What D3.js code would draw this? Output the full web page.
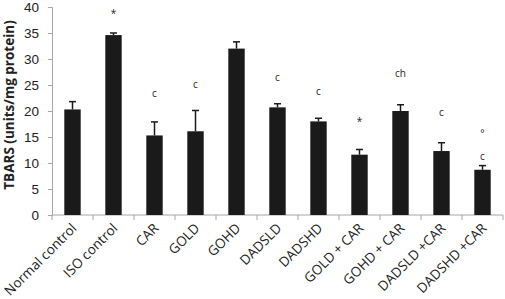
<!DOCTYPE html>
<html>
<head>
<meta charset="utf-8">
<script src="https://cdn.jsdelivr.net/npm/d3@7"></script>
<style>
  body { margin: 0; background: #fff; }
  svg { font-family: "Open Sans", "Noto Sans", sans-serif; }
</style>
</head>
<body>
<div id="chart"></div>
<script>
var groups = ["Normal control", "ISO control", "CAR", "GOLD", "GOHD", "DADSLD", "DADSHD",
    "GOLD + CAR", "GOHD + CAR", "DADSLD +CAR", "DADSHD +CAR"];
var means = [20.3, 34.6, 15.3, 16.1, 32.0, 20.7, 18.0, 11.6, 20.0, 12.3, 8.7];
var errors = [1.5, 0.4, 2.6, 4.0, 1.3, 0.7, 0.6, 1.0, 1.2, 1.6, 0.8];
var yTicks = [0, 5, 10, 15, 20, 25, 30, 35, 40];

// significance marks: group, label, height in axis units
var marks = [
    { group: "ISO control", label: "*", at: 38.6 },
    { group: "CAR", label: "c", at: 23.3 },
    { group: "GOLD", label: "c", at: 25.0 },
    { group: "DADSLD", label: "c", at: 26.2 },
    { group: "DADSHD", label: "c", at: 23.6 },
    { group: "GOLD + CAR", label: "*", at: 17.8 },
    { group: "GOHD + CAR", label: "ch", at: 27.0 },
    { group: "DADSLD +CAR", label: "c", at: 19.6 },
    { group: "DADSHD +CAR", label: "°", at: 15.6 },
    { group: "DADSHD +CAR", label: "c", at: 11.0 }
];

var data = groups.map(function (g, i) {
    return { group: g, mean: means[i], err: errors[i] };
});

var margin = { top: 7, right: 2, bottom: 84, left: 52 },
    width = 505 - margin.left - margin.right,
    height = 299 - margin.top - margin.bottom;

var svg = d3.select("#chart")
    .append("svg")
    .attr("width", 505)
    .attr("height", 299)
    .append("g")
    .attr("transform", "translate(" + margin.left + "," + margin.top + ")");

var x = d3.scaleBand().domain(groups).range([0, width]).paddingInner(0.6).paddingOuter(0.3);
var y = d3.scaleLinear().domain([0, 40]).range([height, 0]);

var axisColor = "#a6a6a6";

// y axis
var yAxis = svg.append("g")
    .call(d3.axisLeft(y).tickValues(yTicks).tickSize(4).tickPadding(9));
yAxis.select(".domain").attr("stroke", axisColor);
yAxis.selectAll(".tick line").attr("stroke", axisColor);
yAxis.selectAll("text").style("font-size", "13.5px").attr("fill", "#222");

// x axis with ticks at band boundaries
var xAxis = svg.append("g").attr("transform", "translate(0," + height + ")");
xAxis.append("line")
    .attr("x1", 0).attr("x2", width)
    .attr("stroke", axisColor);
xAxis.selectAll(".xtick")
    .data(d3.range(groups.length + 1))
    .enter()
    .append("line")
    .attr("class", "xtick")
    .attr("x1", function (i) { return i * width / groups.length; })
    .attr("x2", function (i) { return i * width / groups.length; })
    .attr("y1", 0).attr("y2", 5)
    .attr("stroke", axisColor);

xAxis.selectAll(".xlabel")
    .data(groups)
    .enter()
    .append("text")
    .attr("class", "xlabel")
    .attr("text-anchor", "end")
    .attr("transform", function (d) {
        return "translate(" + (x(d) + x.bandwidth() / 2 + 5) + ",14) rotate(-45)";
    })
    .style("font-size", "13.5px")
    .attr("fill", "#222")
    .text(function (d) { return d; });

// bars
svg.selectAll(".bar")
    .data(data)
    .enter()
    .append("rect")
    .attr("class", "bar")
    .attr("x", function (d) { return x(d.group); })
    .attr("width", x.bandwidth())
    .attr("y", function (d) { return y(d.mean); })
    .attr("height", function (d) { return height - y(d.mean); })
    .attr("fill", "#1a1a1a");

// error bars (upper only)
var eb = svg.selectAll(".err")
    .data(data)
    .enter()
    .append("g")
    .attr("class", "err")
    .attr("stroke", "#1a1a1a")
    .attr("stroke-width", 1.5);
eb.append("line")
    .attr("x1", function (d) { return x(d.group) + x.bandwidth() / 2; })
    .attr("x2", function (d) { return x(d.group) + x.bandwidth() / 2; })
    .attr("y1", function (d) { return y(d.mean); })
    .attr("y2", function (d) { return y(d.mean + d.err); });
eb.append("line")
    .attr("x1", function (d) { return x(d.group) + x.bandwidth() / 2 - 3.5; })
    .attr("x2", function (d) { return x(d.group) + x.bandwidth() / 2 + 3.5; })
    .attr("y1", function (d) { return y(d.mean + d.err); })
    .attr("y2", function (d) { return y(d.mean + d.err); });

// significance marks
svg.selectAll(".mark")
    .data(marks)
    .enter()
    .append("text")
    .attr("class", "mark")
    .attr("x", function (d) { return x(d.group) + x.bandwidth() / 2; })
    .attr("y", function (d) { return y(d.at); })
    .attr("text-anchor", "middle")
    .attr("dominant-baseline", "middle")
    .style("font-size", "10px")
    .attr("fill", "#222")
    .text(function (d) { return d.label; });

// y axis title
svg.append("text")
    .attr("transform", "translate(-38," + (height / 2 - 6) + ") rotate(-90)")
    .attr("text-anchor", "middle")
    .style("font-size", "13.5px")
    .style("font-weight", "bold")
    .attr("fill", "#222")
    .text("TBARS (units/mg protein)");
</script>
</body>
</html>
